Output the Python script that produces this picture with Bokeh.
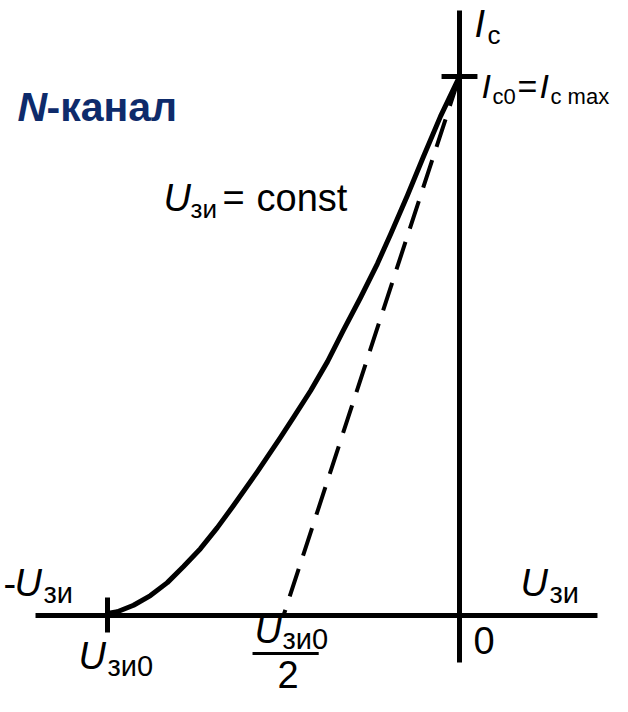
from bokeh.plotting import figure
from bokeh.models import Range1d, Label
from bokeh.embed import file_html
from bokeh.resources import INLINE

# ---- data (normalised: U / |U_зи0| , I / I_c max) ----
curve_u = [-1.000, -0.972, -0.926, -0.878, -0.830, -0.784, -0.736, -0.688, -0.642,
           -0.574, -0.509, -0.472, -0.423, -0.375, -0.330, -0.281, -0.233, -0.196,
           -0.148, -0.102, -0.054, 0.0]
curve_i = [0.004, 0.007, 0.019, 0.037, 0.061, 0.091, 0.124, 0.163, 0.204,
           0.267, 0.330, 0.367, 0.417, 0.471, 0.529, 0.590, 0.653, 0.707,
           0.779, 0.852, 0.926, 1.0]
u_cutoff = -1.0      # U_зи0
u_half = -0.5        # U_зи0 / 2
i_max = 1.0          # I_c0 = I_c max
tangent_u = [u_half, 0.0]
tangent_i = [0.0, i_max]

W, H = 612, 696
p = figure(width=W, height=H, output_backend="svg", toolbar_location=None,
           x_range=Range1d(-1.30398, 0.43466), y_range=Range1d(-0.15028, 1.14100),
           min_border=0, outline_line_color=None,
           x_axis_location=None, y_axis_location=None)
p.grid.visible = False
p.background_fill_color = "white"

BLACK = "black"
# axes
p.line([-1.2045, 0.392], [0, 0], line_width=5, color=BLACK)
p.line([0, 0], [-0.0872, 1.1224], line_width=5, color=BLACK)
# ticks
p.line([-0.051, 0.051], [i_max, i_max], line_width=5, color=BLACK)
p.line([u_cutoff, u_cutoff], [-0.0315, 0.0334], line_width=5, color=BLACK)
# tangent (dashed)
p.line(tangent_u, tangent_i, line_width=4, color=BLACK, line_dash="29 14",
       line_dash_offset=23)
# characteristic
p.line(curve_u, curve_i, line_width=5, color=BLACK, line_join="round", line_cap="round")
# fraction bar under U_зи0
p.line([u_half - 0.088, u_half + 0.100], [-0.0705, -0.0705], line_width=3, color=BLACK)

FONT = "Liberation Sans"
NAVY = "#0e2b6b"

def lab(text, x, y, size, style="normal", color=BLACK):
    # x, y in picture pixels (left edge, baseline); small correction for
    # where the renderer puts the alphabetic baseline
    p.add_layout(Label(x=x, y=H - y + 0.37 * size, x_units="screen", y_units="screen",
                       text=text, text_font=FONT, text_font_size=f"{size}px",
                       text_font_style=style, text_color=color,
                       text_align="left", text_baseline="alphabetic"))

MAIN, SUB = 38, 26
AX_SUB = 29

lab("N", 17, 122, 41, "bold italic", NAVY)
lab("-канал", 46, 122, 41, "bold", NAVY)

lab("U", 163, 212, MAIN, "italic")
lab("зи", 190, 218, SUB)
lab("=", 222, 212, MAIN)
lab("const", 256, 212, MAIN)

lab("I", 474, 38, MAIN, "italic")
lab("c", 487, 44, SUB)

lab("I", 481, 98, 34, "italic")
lab("c0", 492, 104, 22)
lab("=", 517, 98, 34)
lab("I", 539, 98, 34, "italic")
lab("c max", 550, 104, 22)

lab("-", 3, 597, MAIN)
lab("U", 14, 597, MAIN, "italic")
lab("зи", 43, 603, AX_SUB)

lab("U", 520, 597, MAIN, "italic")
lab("зи", 549, 603, AX_SUB)

lab("U", 78, 670, MAIN, "italic")
lab("зи0", 107, 676, AX_SUB)

lab("U", 254, 644, MAIN, "italic")
lab("зи0", 282, 649, AX_SUB)
lab("2", 277, 688, MAIN)

lab("0", 473, 654, MAIN)

open("out.html", "w").write(file_html(p, INLINE))
